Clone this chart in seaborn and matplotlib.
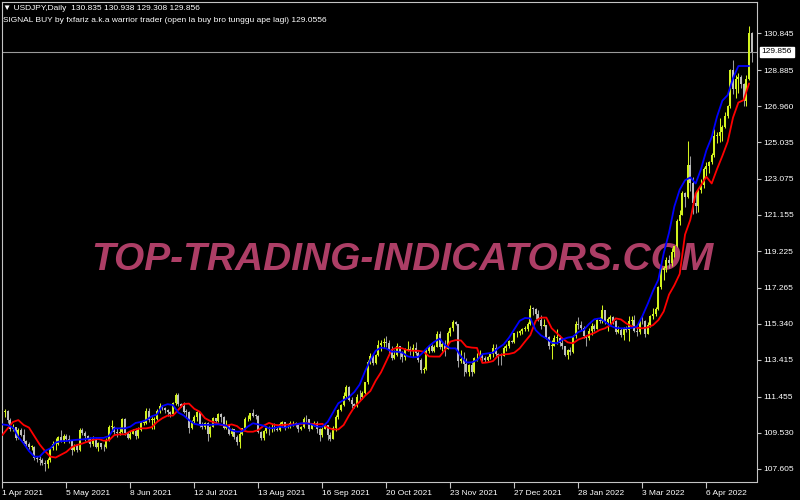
import numpy as np
import pandas as pd
import matplotlib
matplotlib.use("Agg")
import matplotlib.pyplot as plt
import seaborn as sns

# ---------------- data ----------------
symbol_header = "\u25bc USDJPY,Daily  130.835 130.938 129.308 129.856"
indicator_header = "SIGNAL BUY by fxfariz a.k.a warrior trader (open la buy bro tunggu ape lagi) 129.0556"
watermark = "TOP-TRADING-INDICATORS.COM"
first_date = "2021-04-01"
first_open = 110.72
last_price = 129.856

closes = [
    # Apr 2021
    110.63, 110.70, 110.18, 109.74, 109.85, 109.27, 109.65, 109.40, 109.06, 108.94, 108.77,
    108.78, 108.15, 108.10, 108.07, 107.93, 107.88, 108.08, 108.70, 108.90, 108.92, 109.30,
    # May 2021
    109.10, 109.35, 109.20, 109.09, 108.59, 108.82, 108.60, 109.69, 109.49, 109.35, 109.22,
    108.90, 109.20, 108.78, 108.97, 108.77, 108.75, 109.15, 109.83, 109.84, 109.57,
    # Jun 2021
    109.50, 109.56, 110.28, 109.50, 109.25, 109.48, 109.63, 109.33, 109.67, 110.06, 110.07,
    110.71, 110.20, 110.21, 110.27, 110.66, 110.95, 110.86, 110.76, 110.63, 110.53, 111.10,
    # Jul 2021
    111.56, 111.05, 110.96, 110.64, 110.62, 109.80, 110.14, 110.36, 110.62, 109.97, 109.83,
    110.06, 109.47, 109.84, 110.30, 110.15, 110.55, 110.38, 109.77, 109.92, 109.47, 109.72,
    # Aug 2021
    109.31, 109.04, 109.48, 109.76, 110.24, 110.28, 110.58, 110.42, 110.41, 109.58, 109.24,
    109.60, 109.76, 109.74, 109.79, 109.71, 109.67, 110.00, 110.08, 109.84, 109.89, 110.02,
    # Sep 2021
    110.02, 109.93, 109.71, 109.83, 110.27, 110.24, 109.72, 109.92, 110.02, 109.70, 109.38,
    109.71, 109.93, 109.41, 109.21, 109.78, 110.35, 110.73, 110.99, 111.49, 111.97, 111.29,
    # Oct 2021
    111.05, 110.94, 111.44, 111.41, 111.64, 112.24, 113.28, 113.60, 113.26, 113.67, 114.21,
    114.32, 114.36, 114.30, 114.00, 113.50, 113.68, 114.14, 113.82, 113.58, 113.95,
    # Nov 2021
    114.02, 113.96, 114.07, 113.77, 113.42, 112.87, 112.92, 113.90, 114.14, 113.90, 114.12,
    114.81, 114.09, 114.26, 114.00, 114.85, 115.12, 115.44, 115.35, 113.38, 113.45, 113.17,
    # Dec 2021
    112.79, 113.16, 112.79, 113.50, 113.54, 113.67, 113.49, 113.42, 113.57, 113.72, 114.07,
    113.71, 113.68, 113.63, 114.07, 114.14, 114.40, 114.38, 114.83, 114.83, 114.94, 115.07, 115.08,
    # Jan 2022
    115.34, 116.13, 116.12, 115.84, 115.56, 115.23, 115.28, 114.64, 114.18, 114.18, 114.60,
    114.60, 114.32, 114.13, 113.69, 113.96, 113.86, 114.69, 115.35, 115.25, 115.13,
    # Feb 2022
    114.69, 114.57, 114.97, 115.24, 115.08, 115.56, 115.51, 116.06, 115.43, 115.58,
    115.69, 115.48, 114.92, 115.01, 114.74, 115.08, 115.03, 115.49, 115.56, 114.98,
    # Mar 2022
    114.91, 115.48, 115.47, 114.79, 115.30, 115.73, 115.86, 116.13, 117.31, 118.19, 118.31,
    118.74, 118.59, 119.17, 119.48, 120.85, 121.17, 122.34, 122.09, 123.80, 122.83, 121.80, 121.63,
    # Apr 2022
    122.50, 122.77, 123.62, 123.75, 123.95, 124.34, 125.36, 125.37, 125.60, 125.86, 126.42,
    126.97, 128.87, 127.89, 128.40, 128.49, 128.13, 127.21, 128.42, 130.835, 129.856,
]

highs = [
    110.97, 110.77, 110.74, 110.32, 110.00, 109.85, 109.78, 109.77, 109.73, 109.14, 109.05,
    108.88, 108.80, 108.30, 108.35, 108.20, 108.05, 108.15, 108.72, 109.07, 109.22, 109.34,
    109.69, 109.48, 109.45, 109.38, 109.13, 108.92, 108.90, 109.77, 109.79, 109.60, 109.40,
    109.30, 109.33, 109.30, 109.05, 108.97, 108.92, 109.22, 109.94, 110.20, 109.86,
    109.77, 109.83, 110.33, 110.33, 109.57, 109.60, 109.73, 109.80, 109.85, 110.15, 110.15,
    110.82, 110.82, 110.34, 110.35, 110.79, 111.11, 111.01, 110.89, 110.80, 110.70, 111.14,
    111.66, 111.65, 111.13, 111.14, 110.78, 110.68, 110.18, 110.48, 110.70, 110.65, 110.08,
    110.10, 110.08, 109.90, 110.39, 110.30, 110.58, 110.60, 110.40, 110.20, 109.98, 109.80,
    109.72, 109.38, 109.62, 109.78, 110.37, 110.45, 110.60, 110.80, 110.50, 110.46, 109.63,
    109.65, 109.90, 109.87, 109.98, 110.02, 109.84, 110.11, 110.16, 110.12, 110.00, 110.15,
    110.14, 110.10, 110.00, 109.90, 110.35, 110.45, 110.28, 110.05, 110.16, 110.15, 109.78,
    109.82, 110.07, 109.93, 109.55, 109.90, 110.45, 110.80, 111.07, 111.68, 112.08, 112.00,
    111.45, 111.10, 111.58, 111.80, 111.75, 112.25, 113.42, 113.80, 113.75, 113.73, 114.45,
    114.47, 114.58, 114.70, 114.48, 114.18, 113.95, 114.31, 114.15, 113.87, 114.05,
    114.44, 114.15, 114.25, 114.35, 113.90, 113.50, 113.05, 114.00, 114.18, 114.25, 114.20,
    114.97, 114.95, 114.40, 114.50, 114.95, 115.18, 115.52, 115.50, 115.35, 113.95, 113.85,
    113.50, 113.22, 113.35, 113.57, 113.80, 113.95, 113.70, 113.60, 113.62, 113.80, 114.28,
    114.25, 113.80, 113.80, 114.15, 114.25, 114.45, 114.46, 114.85, 114.95, 115.00, 115.10, 115.20,
    115.45, 116.35, 116.25, 116.20, 116.05, 115.82, 115.60, 115.30, 114.70, 114.45, 114.75,
    115.05, 114.75, 114.55, 114.15, 114.00, 114.10, 114.72, 115.50, 115.68, 115.48,
    115.20, 114.75, 115.10, 115.40, 115.35, 115.60, 115.70, 116.35, 116.10, 115.70,
    115.80, 115.75, 115.55, 115.20, 115.10, 115.15, 115.20, 115.75, 115.75, 115.80,
    115.20, 115.55, 115.80, 115.55, 115.45, 115.80, 116.20, 116.25, 117.35, 118.30, 118.45,
    118.90, 119.00, 119.40, 119.50, 120.95, 121.40, 122.43, 122.40, 125.10, 124.30, 123.20, 122.40,
    122.60, 123.05, 123.70, 123.95, 124.05, 124.45, 125.75, 125.60, 126.30, 125.95, 126.65,
    127.00, 128.96, 129.40, 128.60, 128.70, 128.60, 128.20, 128.60, 131.25, 130.938,
]

lows = [
    110.38, 110.35, 110.05, 109.62, 109.62, 109.12, 109.20, 109.35, 108.85, 108.82, 108.65,
    108.60, 108.08, 107.98, 107.82, 107.80, 107.48, 107.66, 107.94, 108.60, 108.58, 108.85,
    109.05, 108.97, 109.08, 109.00, 108.34, 108.53, 108.50, 108.55, 109.40, 109.10, 109.05,
    108.78, 108.80, 108.70, 108.55, 108.65, 108.56, 108.72, 109.08, 109.63, 109.40,
    109.32, 109.40, 109.52, 109.39, 109.20, 109.18, 109.45, 109.20, 109.27, 109.63, 109.92,
    109.97, 110.12, 109.70, 109.72, 110.20, 110.60, 110.76, 110.60, 110.42, 110.37, 110.50,
    111.03, 110.94, 110.90, 110.58, 110.35, 109.53, 109.70, 110.05, 110.15, 109.84, 109.73,
    109.75, 109.06, 109.30, 109.82, 109.97, 110.08, 110.10, 109.70, 109.70, 109.40, 109.35,
    109.18, 108.88, 108.72, 109.43, 109.70, 110.16, 110.20, 110.35, 110.28, 109.53, 109.12,
    109.12, 109.50, 109.40, 109.58, 109.60, 109.60, 109.60, 109.87, 109.65, 109.78, 109.80,
    109.90, 109.84, 109.59, 109.65, 109.80, 110.10, 109.60, 109.70, 109.88, 109.52, 109.11,
    109.30, 109.70, 109.12, 109.11, 109.18, 109.60, 110.25, 110.70, 110.93, 111.40, 111.20,
    110.87, 110.82, 110.90, 111.25, 111.35, 111.60, 112.15, 113.18, 113.15, 113.20, 113.60,
    113.88, 114.04, 114.08, 113.80, 113.42, 113.45, 113.60, 113.48, 113.30, 113.40,
    113.90, 113.65, 113.55, 113.70, 113.30, 112.73, 112.72, 112.88, 113.78, 113.85, 113.85,
    114.10, 114.00, 113.90, 113.60, 114.00, 114.70, 114.95, 115.28, 113.05, 113.25, 112.55,
    112.70, 112.53, 112.55, 112.74, 113.35, 113.45, 113.38, 113.28, 113.35, 113.45, 113.55,
    113.60, 113.14, 113.15, 113.60, 113.90, 114.05, 114.30, 114.32, 114.65, 114.72, 114.80, 114.95,
    114.95, 115.25, 115.80, 115.60, 115.50, 115.05, 115.20, 114.55, 113.98, 113.48, 114.15,
    114.25, 114.15, 114.00, 113.60, 113.47, 113.65, 113.80, 114.60, 115.05, 115.00,
    114.60, 114.15, 114.45, 114.75, 114.95, 115.05, 115.40, 115.40, 115.35, 114.95,
    115.30, 115.35, 114.80, 114.85, 114.65, 114.50, 114.90, 114.40, 115.30, 114.90,
    114.70, 114.82, 115.35, 114.65, 114.80, 115.15, 115.60, 115.75, 116.05, 117.20, 117.70,
    118.10, 118.30, 118.45, 118.90, 119.45, 120.60, 121.15, 121.60, 122.05, 122.45, 121.20, 121.25,
    121.30, 122.30, 122.60, 123.25, 123.40, 123.85, 124.25, 125.00, 125.05, 125.10, 125.80,
    126.30, 126.85, 127.60, 127.40, 127.65, 127.95, 126.95, 126.95, 128.35, 129.308,
]

# indicator lines, one reading every second bar
blue_line = [
    109.97, 109.93, 109.80, 109.30, 108.96, 108.55, 108.25, 108.25, 108.55, 108.69,
    109.00, 109.08, 109.08, 109.12, 109.15, 109.17, 109.20, 109.25, 109.25, 109.25,
    109.35, 109.76, 109.76, 109.76, 109.85, 110.05, 110.10, 110.20, 110.40, 110.50,
    110.95, 111.05, 111.00, 110.60, 110.45, 110.20, 110.00, 109.94, 109.95, 109.95,
    109.97, 109.97, 109.90, 109.65, 109.58, 109.60, 109.85, 110.03, 109.97, 109.90,
    109.76, 109.78, 109.85, 109.80, 109.90, 109.97, 110.03, 110.03, 109.97, 109.85,
    109.85, 110.10, 110.60, 111.10, 111.27, 111.43, 111.70, 112.10, 112.80, 113.41,
    113.90, 114.07, 114.02, 113.85, 113.85, 113.80, 113.60, 113.55, 113.57, 113.85,
    114.15, 114.38, 114.55, 114.20, 114.03, 114.03, 113.60, 113.28, 113.28, 113.40,
    113.72, 113.76, 113.80, 114.05, 114.24, 114.60, 115.05, 115.50, 115.65, 115.63,
    115.00, 114.72, 114.56, 114.33, 114.30, 114.50, 114.60, 114.65, 114.90, 115.01,
    115.33, 115.58, 115.63, 115.45, 115.24, 115.12, 115.10, 115.10, 115.12, 115.20,
    115.75, 116.40, 117.10, 117.70, 119.10, 120.20, 121.60, 122.50, 123.00, 123.15,
    122.83, 123.60, 124.60, 125.30, 126.40, 127.25, 127.55, 128.45, 129.10, 129.10,
    129.10,
]

red_line = [
    109.40, 109.75, 110.10, 110.20, 109.94, 109.80, 109.35, 108.90, 108.55, 108.25,
    108.20, 108.35, 108.50, 108.75, 108.87, 108.95, 109.05, 109.14, 109.20, 109.10,
    109.12, 109.40, 109.44, 109.44, 109.60, 109.70, 109.76, 109.76, 109.82, 110.10,
    110.30, 110.44, 110.44, 110.75, 111.06, 111.08, 110.80, 110.65, 110.30, 110.15,
    110.05, 109.94, 109.90, 109.97, 109.88, 109.65, 109.58, 109.58, 109.67, 109.90,
    110.05, 109.95, 109.92, 109.95, 109.97, 109.97, 110.00, 110.03, 110.00, 109.97,
    110.00, 109.80, 109.70, 109.70, 109.94, 110.45, 110.90, 111.18, 111.50, 111.75,
    112.30, 112.75, 113.35, 113.95, 114.07, 114.03, 113.92, 113.90, 113.90, 113.85,
    113.60, 113.59, 113.59, 113.95, 114.39, 114.47, 114.45, 114.12, 114.07, 114.05,
    113.25, 113.28, 113.35, 113.65, 113.71, 113.73, 113.80, 114.03, 114.39, 114.74,
    115.50, 115.67, 115.67, 115.10, 114.83, 114.56, 114.35, 114.30, 114.50, 114.60,
    114.75, 114.85, 115.01, 115.10, 115.27, 115.63, 115.57, 115.36, 115.20, 115.13,
    115.10, 115.15, 115.27, 115.54, 116.00, 116.90, 117.40, 118.00, 120.10, 120.90,
    122.30, 122.75, 123.19, 122.83, 123.60, 124.30, 125.06, 126.35, 127.15, 127.28,
    128.17,
]

price_ticks = ["130.845", "128.885", "126.960", "125.035", "123.075", "121.155", "119.225",
               "117.265", "115.340", "113.415", "111.455", "109.530", "107.605"]
date_ticks = ["1 Apr 2021", "5 May 2021", "8 Jun 2021", "12 Jul 2021", "13 Aug 2021",
              "16 Sep 2021", "20 Oct 2021", "23 Nov 2021", "27 Dec 2021", "28 Jan 2022",
              "3 Mar 2022", "6 Apr 2022"]

# ---------------- style ----------------
sns.set_style("dark")
plt.rcParams["font.family"] = ["Liberation Sans", "DejaVu Sans"]

BG = "black"
BULL = "#d2f21e"
BEAR_BODY = "#bdbdbd"
BEAR_WICK = "#9c9c9c"
FRAME = "#c4c4c4"
TXT = "#ffffff"

W, H = 800, 500
fig = plt.figure(figsize=(W / 100, H / 100), dpi=100, facecolor=BG)
left_px, right_px, top_px, bottom_px = 1.5, 757.3, 2.0, 481.5
ax = fig.add_axes([left_px / W, (H - bottom_px) / H, (right_px - left_px) / W, (bottom_px - top_px) / H])
ax.set_facecolor(BG)
ax.grid(False)

n = min(len(closes), len(highs), len(lows))
c = np.array(closes[:n])
h = np.array(highs[:n])
l = np.array(lows[:n])
o = np.array([first_open] + closes[:n - 1])
idx = np.arange(n)
dates = pd.bdate_range(first_date, periods=n)
up = c >= o

# watermark (behind the candles)
ax.text(0.5299, 0.441, watermark, transform=ax.transAxes, ha="center", va="baseline",
        fontsize=28, fontweight="bold", fontstyle="italic", color="#ad3e66", zorder=1.5)

# current price line
ax.axhline(last_price, color="#9a9a9a", lw=0.8, zorder=1)

# candles
ax.vlines(idx[up], l[up], h[up], color=BULL, lw=0.75, zorder=2)
ax.vlines(idx[~up], l[~up], h[~up], color=BEAR_WICK, lw=0.75, zorder=2)
body_bottom = np.minimum(o, c)
body_height = np.maximum(np.abs(c - o), 0.04)
ax.bar(idx[up], body_height[up], bottom=body_bottom[up], width=0.66, color=BULL, lw=0, zorder=3)
ax.bar(idx[~up], body_height[~up], bottom=body_bottom[~up], width=0.66, color=BEAR_BODY, lw=0, zorder=3)

# indicator lines
m = min(len(blue_line), len(red_line))
lines_df = pd.DataFrame({"bar": idx[::2][:m], "blue": blue_line[:m], "red": red_line[:m]})
sns.lineplot(data=lines_df, x="bar", y="red", color="#ff0000", linewidth=1.3, ax=ax, zorder=4)
sns.lineplot(data=lines_df, x="bar", y="blue", color="#0000ff", linewidth=1.3, ax=ax, zorder=5)

# scales
ax.set_xlim(-0.3, 283.1)
ax.set_ylim(106.922, 132.516)
ax.set_xlabel("")
ax.set_ylabel("")

ax.yaxis.tick_right()
ax.set_yticks([float(t) for t in price_ticks], price_ticks)
ax.tick_params(axis="y", which="both", direction="out", length=3, width=0.8, color=FRAME,
               labelcolor=TXT, labelsize=6, pad=1.5, left=False, right=True)

date_pos = [dates.get_loc(pd.Timestamp(d)) for d in date_ticks]
ax.set_xticks(date_pos, date_ticks)
ax.tick_params(axis="x", which="both", direction="out", length=4, width=0.8, color=FRAME,
               labelcolor=TXT, labelsize=6, pad=2.0, bottom=True, top=False)
for lab in ax.get_xticklabels():
    lab.set_horizontalalignment("left")

for sp in ax.spines.values():
    sp.set_visible(True)
    sp.set_color(FRAME)
    sp.set_linewidth(0.8)

# current price tag
ax.annotate(f"{last_price:.3f}", xy=(1.0, last_price), xycoords=("axes fraction", "data"),
            xytext=(3.2, 0), textcoords="offset points", ha="left", va="center",
            fontsize=6, color="black", annotation_clip=False, zorder=10,
            bbox=dict(boxstyle="square,pad=0.2", fc="white", ec="white"))

# header texts
fig.text(3 / W, 1 - 9 / H, symbol_header, fontsize=6, color=TXT, ha="left", va="center")
fig.text(3 / W, 1 - 20 / H, indicator_header, fontsize=6, color=TXT, ha="left", va="center")

fig.savefig("out.png", dpi=100, facecolor=BG)
